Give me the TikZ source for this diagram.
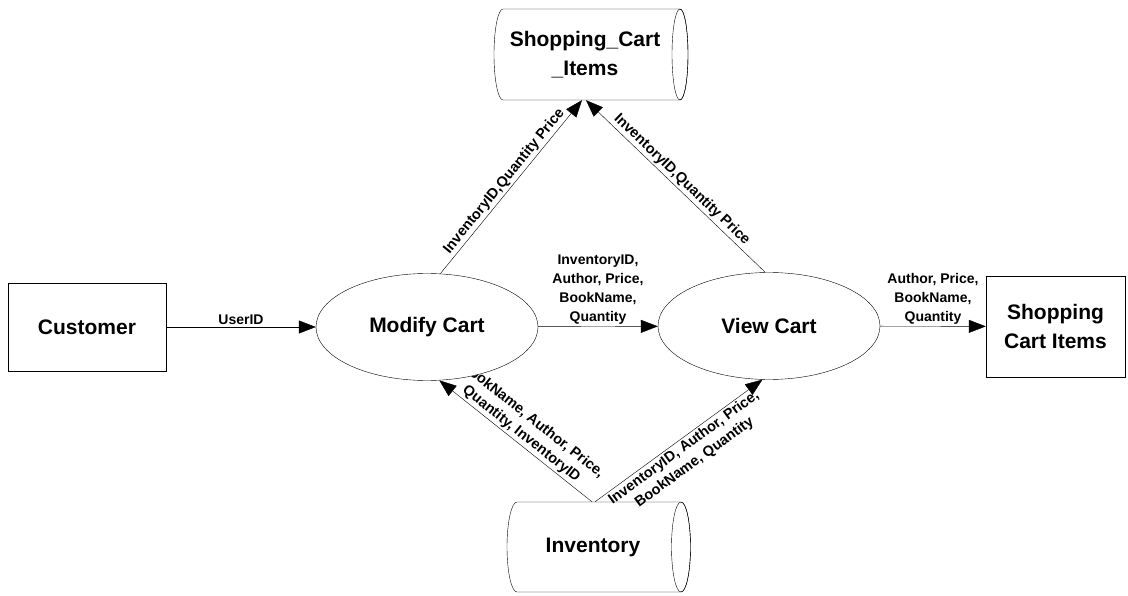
\documentclass[tikz,border=0pt]{standalone}
\usepackage{fontspec}
\setmainfont{Liberation Sans}
\usetikzlibrary{arrows.meta,shapes.geometric}
\pgfdeclarelayer{front}
\pgfsetlayers{main,front}

\begin{document}
\begin{tikzpicture}[x=1pt,y=-1pt,
  line width=1.9pt,
  big/.style={font=\bfseries\fontsize{21}{29}\selectfont, align=center},
  flowlabel/.style={font=\bfseries\fontsize{14}{19}\selectfont, align=center, inner sep=2pt},
  slopelabel/.style={font=\bfseries\fontsize{14.5}{18}\selectfont, align=center, inner sep=2pt, sloped},
  entity/.style={draw, rectangle, fill=white, inner sep=0pt, big},
  process/.style={draw, ellipse, fill=white, inner sep=0pt,
                  minimum width=222pt, minimum height=107pt, big},
  storetext/.style={rectangle, inner sep=0pt, big},
  storebody/.style={draw, fill=white, line join=round},
  flow/.style={-{Triangle[length=17pt,width=13pt]}},
]
\useasboundingbox[fill=white] (0,0) rectangle (1128,596);

% processes and external entities sit above the data flows
\begin{pgfonlayer}{front}
  \node[entity, minimum width=158pt, minimum height=88pt] (customer) at (87,327) {Customer};
  \node[process] (modify) at (427,327) {Modify Cart};
  \node[process] (view) at (769,326) {View Cart};
  \node[entity, minimum width=139pt, minimum height=101pt] (items) at (1055.5,326.5) {Shopping\\Cart Items};
\end{pgfonlayer}

% data store: Shopping_Cart_Items
\draw[storebody] (680,9) -- (503,9)
  arc[start angle=270, end angle=90, x radius=9, y radius=45.5]
  -- (680,100)
  arc[start angle=90, end angle=-90, x radius=8, y radius=45.5] -- cycle;
\draw (680,54.5) ellipse[x radius=8, y radius=45.5];
\node[storetext, minimum width=182pt, minimum height=91pt] (cartdb) at (585,54.5) {Shopping\_Cart\\\_Items};

% data store: Inventory
\draw[storebody] (681,502) -- (517,502)
  arc[start angle=270, end angle=90, x radius=10, y radius=45]
  -- (681,592)
  arc[start angle=90, end angle=-90, x radius=9.5, y radius=45] -- cycle;
\draw (681,547) ellipse[x radius=9.5, y radius=45];
\node[storetext, minimum width=170pt, minimum height=90pt] (invdb) at (593,547) {Inventory};

% data flows
\draw[flow] (customer) -- node[flowlabel, above] (lbluser) {UserID} (modify);
\draw[flow] (modify) -- node[flowlabel, above] (lblmv)
  {InventoryID,\\Author, Price,\\BookName,\\Quantity} (view);
\draw[flow] (view) -- node[flowlabel, above] (lblout)
  {Author, Price,\\BookName,\\Quantity} (items);

\draw[flow] (modify.76) -- node[slopelabel, above] (lblmc)
  {InventoryID,Quantity Price} ([xshift=-3pt]cartdb.south);
\draw[flow] (view.94) -- node[slopelabel, above] (lblvc)
  {InventoryID,Quantity Price} ([xshift=1pt]cartdb.south);

\draw[flow] ([xshift=-1pt]invdb.north) -- node[slopelabel, above] (lblim)
  {BookName, Author, Price,\\Quantity, InventoryID} (modify.-77);
\draw[flow] ([xshift=2pt]invdb.north) -- node[slopelabel, below] (lbliv)
  {InventoryID, Author, Price,\\BookName, Quantity} (view.-97);

\end{tikzpicture}
\end{document}
